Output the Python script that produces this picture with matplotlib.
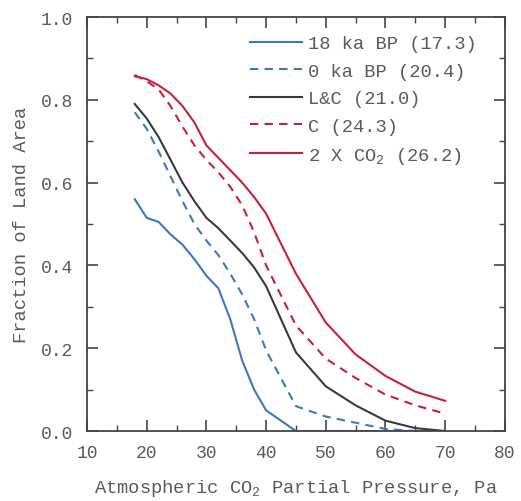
import numpy as np
import matplotlib
matplotlib.use('Agg')
import matplotlib.pyplot as plt
from matplotlib.ticker import MultipleLocator

plt.rcParams['font.family'] = ['Liberation Mono', 'DejaVu Sans']
plt.rcParams['mathtext.fontset'] = 'custom'
plt.rcParams['mathtext.rm'] = 'Liberation Mono'
plt.rcParams['mathtext.it'] = 'Liberation Mono'

# CO2 partial pressure (Pa)
pco2 = [18, 20, 22, 24, 26, 28, 30, 32, 34, 36, 38, 40, 45, 50, 55, 60, 65, 70]

ka18 = [0.56, 0.515, 0.505, 0.475, 0.45, 0.415, 0.375, 0.345, 0.27, 0.17, 0.10, 0.05,
        0.0, 0.0, 0.0, 0.0, 0.0, 0.0]
ka0 = [0.77, 0.73, 0.675, 0.615, 0.555, 0.50, 0.46, 0.425, 0.38, 0.33, 0.27, 0.195,
       0.06, 0.035, 0.02, 0.005, 0.0, 0.0]
lc = [0.79, 0.755, 0.71, 0.655, 0.60, 0.555, 0.515, 0.49, 0.46, 0.43, 0.395, 0.35,
      0.19, 0.108, 0.062, 0.025, 0.007, 0.0]
c = [0.86, 0.845, 0.825, 0.785, 0.735, 0.69, 0.655, 0.625, 0.59, 0.545, 0.48, 0.40,
     0.255, 0.175, 0.128, 0.088, 0.062, 0.042]
co2x2 = [0.857, 0.85, 0.835, 0.815, 0.785, 0.745, 0.69, 0.66, 0.63, 0.60, 0.565, 0.525,
         0.38, 0.262, 0.185, 0.133, 0.095, 0.073]

labels = ['18 ka BP (17.3)', '0 ka BP (20.4)', 'L&C (21.0)', 'C (24.3)',
          '2 X CO$_2$ (26.2)']

blue = '#3b78c2'
red = '#c8203c'
black = '#3a3a3a'
txt = '#5a5a5a'

fig = plt.figure(figsize=(5.21, 5.02), dpi=100)
ax = fig.add_axes([0.167, 0.1394, 0.802, 0.8247])

ax.plot(pco2, ka18, color=blue, lw=1.5, label=labels[0])
ax.plot(pco2, ka0, color=blue, lw=1.5, ls=(0, (4, 3)), label=labels[1])
ax.plot(pco2, lc, color=black, lw=1.5, label=labels[2])
ax.plot(pco2, c, color=red, lw=1.5, ls=(0, (4, 3)), label=labels[3])
ax.plot(pco2, co2x2, color=red, lw=1.5, label=labels[4])

ax.set_xlim(10, 80)
ax.set_ylim(0, 1.0)
ax.xaxis.set_major_locator(MultipleLocator(10))
ax.xaxis.set_minor_locator(MultipleLocator(5))
ax.yaxis.set_major_locator(MultipleLocator(0.2))
ax.yaxis.set_minor_locator(MultipleLocator(0.1))
ax.yaxis.set_major_formatter(matplotlib.ticker.FormatStrFormatter('%.1f'))
ax.tick_params(which='both', direction='in', top=True, right=True,
               colors='#444444', labelcolor=txt, labelsize=13)
ax.tick_params(which='major', length=8, width=1.2)
ax.tick_params(which='minor', length=4, width=1.0)
ax.tick_params(axis='x', which='major', pad=9)
ax.tick_params(axis='y', which='major', pad=10)
for s in ax.spines.values():
    s.set_color('#444444')
    s.set_linewidth(1.3)

ax.set_xlabel('Atmospheric CO$_2$ Partial Pressure, Pa', fontsize=13.5, color=txt, labelpad=12)
ax.set_ylabel('Fraction of Land Area', fontsize=13.5, color=txt, labelpad=8)

leg = ax.legend(loc='upper left', bbox_to_anchor=(0.39, 0.956), frameon=False,
                fontsize=13.5, handlelength=2.8, handletextpad=0.3, labelspacing=0.55,
                borderpad=0, borderaxespad=0)
for t in leg.get_texts():
    t.set_color(txt)

fig.savefig('out.png', dpi=100)
